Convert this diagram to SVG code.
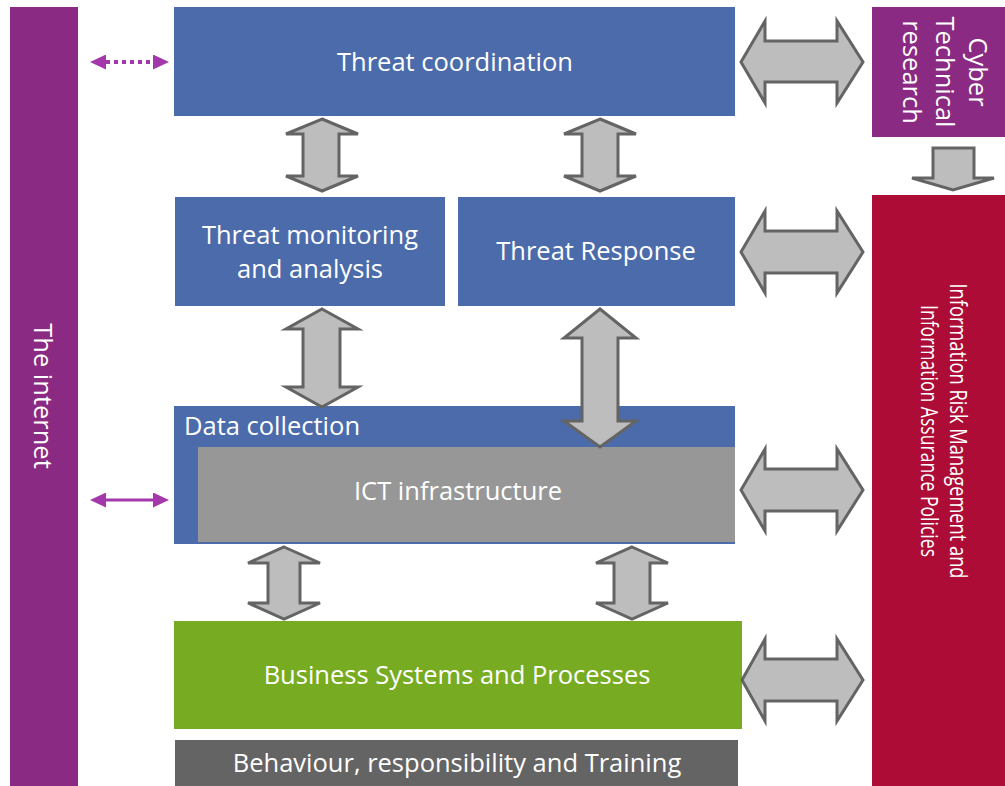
<svg xmlns="http://www.w3.org/2000/svg" width="1005" height="786" viewBox="0 0 1005 786">
  <style>
    .lbl { font-family: "Open Sans", "Liberation Sans", sans-serif; font-size: 25.5px; fill: #ffffff; }
    .mid { text-anchor: middle; }
    .blue { fill: #4B6BAB; }
    .purple { fill: #8A2A82; }
    .fat { fill: #BDBDBD; stroke: #646464; stroke-width: 3; stroke-linejoin: miter; }
    .link { stroke: #A238AA; fill: none; }
  </style>
  <defs>
    <marker id="tri" markerUnits="userSpaceOnUse" markerWidth="16" markerHeight="15" refX="0" refY="7.5" orient="auto-start-reverse">
      <path d="M0,0 L16,7.5 L0,15 Z" fill="#A238AA"/>
    </marker>
  </defs>
  <rect width="1005" height="786" fill="#ffffff"/>

  <g id="internet">
    <rect class="purple" x="10" y="7" width="68" height="779"/>
    <text class="lbl mid" transform="translate(34,396) rotate(90)">The internet</text>
  </g>

  <g id="threat-coordination">
    <rect class="blue" x="174" y="7" width="561" height="109"/>
    <text class="lbl mid" x="455" y="71">Threat coordination</text>
  </g>

  <g id="threat-monitoring">
    <rect class="blue" x="175" y="197" width="270" height="109"/>
    <text class="lbl mid" x="310" y="244">Threat monitoring</text>
    <text class="lbl mid" x="310" y="278">and analysis</text>
  </g>

  <g id="threat-response">
    <rect class="blue" x="458" y="197" width="277" height="109"/>
    <text class="lbl mid" x="596" y="260">Threat Response</text>
  </g>

  <g id="data-collection">
    <rect class="blue" x="174" y="406" width="561" height="138"/>
    <text class="lbl" x="184" y="435">Data collection</text>
  </g>

  <g id="ict-infrastructure">
    <rect x="198" y="447" width="537" height="95" fill="#979797"/>
    <text class="lbl mid" x="458" y="500" fill="#f2f2f2">ICT infrastructure</text>
  </g>

  <g id="business-systems">
    <rect x="174" y="621" width="568" height="108" fill="#77AC22"/>
    <text class="lbl mid" x="457" y="684">Business Systems and Processes</text>
  </g>

  <g id="behaviour">
    <rect x="175" y="740" width="563" height="46" fill="#646464"/>
    <text class="lbl mid" x="457" y="772">Behaviour, responsibility and Training</text>
  </g>

  <g id="cyber-research">
    <rect class="purple" x="872" y="7" width="133" height="130"/>
    <text class="lbl mid" transform="translate(969,72) rotate(90)">Cyber</text>
    <text class="lbl mid" transform="translate(936,72) rotate(90)">Technical</text>
    <text class="lbl mid" transform="translate(903,72) rotate(90)">research</text>
  </g>

  <g id="risk-policies">
    <rect x="872" y="195" width="133" height="591" fill="#AD0C37"/>
    <text class="lbl mid" style="font-size:23px" transform="translate(950,431) rotate(90)" textLength="295" lengthAdjust="spacingAndGlyphs">Information Risk Management and</text>
    <text class="lbl mid" style="font-size:23px" transform="translate(921,431) rotate(90)" textLength="252" lengthAdjust="spacingAndGlyphs">Information Assurance Policies</text>
  </g>

  <g id="connectors">
    <!-- links to the internet -->
    <line class="link" x1="106" y1="62" x2="153" y2="62" stroke-width="4" stroke-dasharray="4 4" marker-start="url(#tri)" marker-end="url(#tri)"/>
    <line class="link" x1="106" y1="500" x2="153" y2="500" stroke-width="3" marker-start="url(#tri)" marker-end="url(#tri)"/>

    <!-- vertical block arrows -->
    <polygon class="fat" points="322,119 358,134 339,134 339,176 358,176 322,191 286,176 303,176 303,134 286,134"/>
    <polygon class="fat" points="600,119 636,134 618,134 618,176 636,176 600,191 564,176 582,176 582,134 564,134"/>
    <polygon class="fat" points="322,309 358,329 340,329 340,387 358,387 322,407 286,387 303,387 303,329 286,329"/>
    <polygon class="fat" points="600,309 636,338 618,338 618,421 636,421 600,447 564,421 582,421 582,338 564,338"/>
    <polygon class="fat" points="284,547 320,563 300,563 300,603 320,603 284,619 248,603 268,603 268,563 248,563"/>
    <polygon class="fat" points="632,547 668,563 650,563 650,603 668,603 632,619 596,603 614,603 614,563 596,563"/>

    <!-- horizontal block arrows to the right-hand column -->
    <polygon class="fat" points="741,62 765,21 765,41 837,41 837,21 863,62 837,103 837,82 765,82 765,103"/>
    <polygon class="fat" points="741,252 765,211 765,231 837,231 837,211 863,252 837,293 837,273 765,273 765,293"/>
    <polygon class="fat" points="741,490 765,449 765,469 837,469 837,449 863,490 837,531 837,511 765,511 765,531"/>
    <polygon class="fat" points="742,680 765,639 765,659 837,659 837,639 863,680 837,721 837,701 765,701 765,721"/>

    <!-- research feeds policy -->
    <polygon class="fat" points="933,148 974,148 974,178 994,178 953,190 912,178 933,178"/>
  </g>
</svg>
